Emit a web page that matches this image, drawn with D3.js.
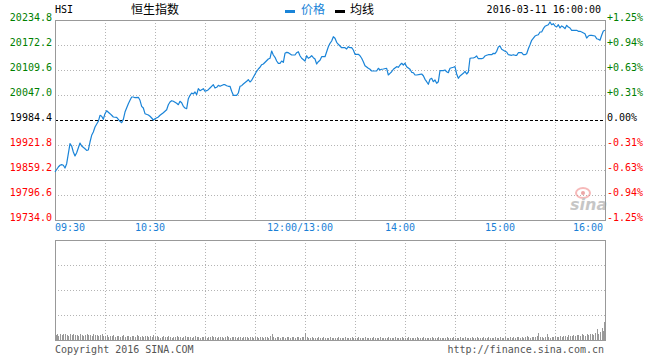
<!DOCTYPE html>
<html><head><meta charset="utf-8">
<script src="https://cdn.jsdelivr.net/npm/d3@7"></script>
<style>body{margin:0;background:#fff}svg{display:block}</style>
</head><body><svg id="c" width="660" height="360"></svg>
<script>
const symbol = "HSI";
const title = "恒生指数";
const legendItems = ["价格", "均线"];
const dateLabel = "2016-03-11 16:00:00";
const prevClose = 19984.4;
const priceTicks = [20234.8, 20172.2, 20109.6, 20047.0, 19984.4, 19921.8, 19859.2, 19796.6, 19734.0];
const pctTicks = ["+1.25%", "+0.94%", "+0.63%", "+0.31%", "0.00%", "-0.31%", "-0.63%", "-0.94%", "-1.25%"];
const timeTickMinutes = [0, 60, 150, 210, 270, 330];
const timeTickLabels = ["09:30", "10:30", "12:00/13:00", "14:00", "15:00", "16:00"];
const footerLeft = "Copyright 2016 SINA.COM";
const footerRight = "http://finance.sina.com.cn";

// trading minutes since 09:30 (lunch break removed)
const minutes = [0,2,3,4,5,6,7,8,9,10,11,12,13,15,16,18,19,20,21,22,23,24,26,27,28,29,30,31,33,34,35,37,38,39,40,41,42,44,45,46,47,48,50,51,52,53,54,56,57,58,59,60,62,63,64,65,
67,68,69,70,71,73,74,75,76,77,78,79,80,81,82,83,84,85,86,87,89,90,91,92,93,95,96,97,98,99,101,102,103,104,105,106,107,109,110,111,112,113,115,116,117,118,119,121,122,123,124,125,
128,129,130,131,132,133,134,135,136,137,138,139,140,142,143,144,145,146,147,148,150,151,152,153,154,155,156,157,158,159,160,162,163,164,165,166,167,168,169,170,171,172,174,175,176,177,178,179,180,182,183,184,185,186,188,189,190,192,
193,194,195,196,197,199,200,201,202,203,205,206,207,208,209,210,211,213,214,215,216,217,219,220,221,222,223,224,225,226,227,228,229,230,231,233,234,235,236,237,239,240,241,242,243,245,246,247,248,249,250,251,252,
253,254,256,257,258,259,260,262,263,264,265,266,267,268,269,270,271,272,274,275,276,277,278,280,281,282,283,284,285,286,288,289,290,291,292,293,294,296,297,298,299,300,301,302,303,304,305,306,307,308,309,310,312,313,314,315,316,318,319,320,321,322,324,325,326,327,328,329,330];
const prices = [19854.2,19866.7,19871.0,19872.5,19871.0,19864.2,19875.0,19900.0,19925.1,19919.3,19904.3,19894.3,19902.5,19926.8,19919.3,19912.5,19908.5,19909.3,19929.3,19946.1,19954.4,19966.9,19981.1,19996.2,19993.7,19986.2,20000.2,20007.7,20000.2,19996.2,19991.9,19991.2,19986.2,19981.1,19977.6,19986.2,20004.4,20025.2,20033.7,20042.0,20042.0,20040.2,20041.2,20033.7,20018.7,20014.4,20000.2,19996.9,19993.7,19989.4,19984.4,19987.7,19991.9,19996.2,19999.4,20002.7,
20010.2,20022.7,20029.5,20032.7,20031.2,20026.2,20022.7,20031.2,20027.7,20018.7,20014.4,20012.7,20037.7,20046.3,20052.0,20049.5,20054.5,20047.8,20062.8,20057.8,20062.8,20056.3,20057.8,20060.3,20064.5,20072.8,20064.5,20066.3,20071.3,20068.8,20072.8,20072.8,20070.3,20068.8,20068.8,20056.3,20046.3,20046.3,20052.0,20068.8,20070.3,20074.5,20081.3,20085.3,20079.6,20083.8,20091.3,20106.3,20112.1,20116.4,20122.9,20124.6,
20137.1,20138.9,20157.2,20147.2,20141.4,20132.1,20126.4,20126.4,20132.1,20128.9,20151.4,20153.9,20152.9,20147.2,20147.2,20147.2,20152.9,20155.4,20145.4,20138.9,20132.1,20145.4,20138.9,20141.4,20145.4,20140.4,20137.1,20124.6,20130.4,20133.9,20142.9,20142.9,20155.4,20167.9,20176.5,20182.2,20193.0,20189.0,20179.0,20174.0,20169.7,20165.4,20165.4,20162.2,20167.9,20165.4,20165.4,20159.7,20148.9,20148.9,20145.4,20138.9,20130.4,20120.4,20113.9,20111.4,20107.1,20107.1,
20107.1,20113.9,20109.6,20111.4,20112.1,20113.9,20097.1,20101.3,20105.3,20111.4,20117.9,20116.4,20122.1,20126.4,20122.1,20126.4,20117.9,20111.4,20103.8,20102.8,20097.1,20097.1,20098.8,20099.6,20095.3,20086.3,20080.3,20073.8,20086.3,20088.8,20080.3,20084.6,20076.3,20080.3,20107.9,20107.9,20109.6,20105.3,20102.8,20113.9,20116.4,20117.9,20099.6,20088.8,20094.6,20101.3,20106.3,20099.6,20104.6,20138.9,20139.6,20139.6,20141.4,
20144.7,20137.9,20137.9,20139.6,20144.7,20146.4,20147.9,20147.9,20151.4,20150.4,20156.4,20167.2,20169.7,20161.4,20158.9,20156.4,20154.7,20147.9,20146.4,20147.9,20146.4,20146.4,20152.9,20152.9,20147.9,20147.9,20150.4,20162.9,20173.0,20184.0,20194.7,20196.5,20198.0,20204.8,20204.8,20213.0,20219.0,20223.0,20229.8,20223.0,20225.5,20219.8,20217.3,20223.0,20214.8,20219.8,20217.3,20213.0,20221.5,20217.3,20214.8,20209.0,20209.0,20209.0,20206.5,20206.5,20204.8,20200.5,20189.7,20194.7,20196.5,20196.5,20194.7,20188.0,20186.5,20184.0,20196.5,20207.3,20209.0];

// volume per trading minute (relative units), minute 0..330
const volumes = [
5,6,4,6,5,6,6,5,4,6,5,6,5,5,4,6,5,4,5,6,5,5,4,6,5,5,4,5,6,4,
4,5,3,4,4,5,3,4,4,3,4,5,3,4,4,3,4,4,3,5,4,3,4,3,4,4,3,4,3,5,
3,4,3,2,3,4,3,3,4,3,2,3,3,4,3,3,2,3,4,3,3,3,2,3,4,3,3,2,3,3,
3,2,3,3,4,3,3,2,3,3,3,2,3,4,3,2,3,3,3,2,3,3,2,3,3,3,2,3,3,2,
3,3,2,3,3,2,3,3,2,4,6,3,2,3,3,2,3,3,2,3,3,2,3,3,2,3,3,2,3,3,
7,3,2,2,3,2,2,2,3,2,2,3,2,2,2,3,2,2,2,2,3,2,2,2,3,2,2,2,3,2,
2,2,3,2,2,2,3,2,2,2,2,3,2,2,2,3,2,2,2,2,3,2,2,2,3,2,2,2,3,2,
2,2,3,2,2,2,2,3,2,2,2,3,2,2,2,2,3,2,2,2,3,2,2,2,2,3,2,2,2,3,
2,2,2,3,2,2,3,2,2,2,3,2,2,3,2,2,2,3,2,2,3,2,2,2,3,2,2,3,2,2,
3,2,2,3,2,3,2,3,3,2,3,2,3,4,3,2,3,3,3,4,7,3,3,2,3,6,3,2,3,3,
4,3,3,4,3,4,4,3,5,4,4,5,4,5,5,4,6,5,4,6,5,6,6,5,7,11,6,8,12,9,
18];
const volMinutes = d3.range(volumes.length);

const svg = d3.select("#c");
const font = "'DejaVu Sans Mono', monospace";
const cjk = "'Noto Sans CJK SC', sans-serif";
const L = 55, R = 605, T = 20, B = 220, VT = 240, VB = 340;

const x = d3.scaleLinear().domain([0, 330]).range([L, R]);
const y = d3.scaleLinear().domain([priceTicks[priceTicks.length-1], priceTicks[0]]).range([B, T]);
const vy = d3.scaleLinear().domain([0, 100]).range([VB, VT]);

const gridMinutes = d3.range(30, 330, 30);
const gridCol = "#b4b4b4", borderCol = "#999999";

// ---- main panel grid
const g = svg.append("g").attr("shape-rendering", "crispEdges");
g.selectAll(".vg").data(gridMinutes).join("line")
  .attr("x1", d => Math.round(x(d)) + 0.5).attr("x2", d => Math.round(x(d)) + 0.5)
  .attr("y1", T).attr("y2", B)
  .attr("stroke", gridCol).attr("stroke-dasharray", "1,2");
g.selectAll(".hg").data(priceTicks.slice(1, -1).filter(v => v !== prevClose)).join("line")
  .attr("x1", L).attr("x2", R)
  .attr("y1", d => Math.round(y(d)) + 0.5).attr("y2", d => Math.round(y(d)) + 0.5)
  .attr("stroke", gridCol).attr("stroke-dasharray", "1,2");
g.append("line").attr("x1", L).attr("x2", R)
  .attr("y1", Math.round(y(prevClose)) + 0.5).attr("y2", Math.round(y(prevClose)) + 0.5)
  .attr("stroke", "#000").attr("stroke-dasharray", "3,2");
g.append("rect").attr("x", L + 0.5).attr("y", T + 0.5).attr("width", R - L).attr("height", B - T)
  .attr("fill", "none").attr("stroke", borderCol);

// ---- volume panel grid
const vg = svg.append("g").attr("shape-rendering", "crispEdges");
vg.selectAll("line.v").data(gridMinutes).join("line")
  .attr("x1", d => Math.round(x(d)) + 0.5).attr("x2", d => Math.round(x(d)) + 0.5)
  .attr("y1", VT).attr("y2", VB)
  .attr("stroke", gridCol).attr("stroke-dasharray", "1,2");
vg.selectAll("line.h").data([25, 50, 75]).join("line")
  .attr("x1", L).attr("x2", R)
  .attr("y1", d => Math.round(vy(d)) + 0.5).attr("y2", d => Math.round(vy(d)) + 0.5)
  .attr("stroke", gridCol).attr("stroke-dasharray", "1,2");
vg.selectAll("rect.bar").data(volumes).join("rect")
  .attr("x", (d, i) => Math.min(Math.max(Math.round(x(volMinutes[i])), L + 1), R - 1))
  .attr("width", 1)
  .attr("y", d => vy(d)).attr("height", d => VB - vy(d))
  .attr("fill", "#999");
vg.append("rect").attr("x", L + 0.5).attr("y", VT + 0.5).attr("width", R - L).attr("height", VB - VT)
  .attr("fill", "none").attr("stroke", borderCol);

// ---- watermark
const wm = svg.append("g").attr("opacity", 0.55);
wm.append("ellipse").attr("cx", 583).attr("cy", 193).attr("rx", 7).attr("ry", 5).attr("fill", "none").attr("stroke", "#f08080").attr("stroke-width", 2);
wm.append("circle").attr("cx", 583).attr("cy", 193).attr("r", 2).attr("fill", "#e06060");
wm.append("text").attr("x", 570).attr("y", 210).text("sina")
  .attr("font-family", "'DejaVu Sans', sans-serif").attr("font-style", "italic").attr("font-weight", "bold")
  .attr("font-size", 16).attr("fill", "#999");

// ---- price line
const line = d3.line().x((d, i) => x(minutes[i])).y(d => y(d));
svg.append("path").datum(prices).attr("d", line)
  .attr("fill", "none").attr("stroke", "#1a84d8").attr("stroke-width", 1.2).attr("stroke-linejoin", "round");

// ---- axis labels
const colorFor = i => i < 4 ? "#008000" : (i === 4 ? "#000" : "#ff0000");
svg.selectAll("text.yl").data(priceTicks).join("text")
  .attr("x", 52).attr("y", d => Math.round(y(d)) + 1)
  .attr("text-anchor", "end").attr("font-family", font).attr("font-size", 10)
  .attr("fill", (d, i) => colorFor(i)).text(d => d.toFixed(1));
svg.selectAll("text.yr").data(pctTicks).join("text")
  .attr("x", 607).attr("y", (d, i) => Math.round(y(priceTicks[i])) + 1)
  .attr("font-family", font).attr("font-size", 10)
  .attr("fill", (d, i) => colorFor(i)).text(d => d);
svg.selectAll("text.xl").data(timeTickLabels).join("text")
  .attr("x", (d, i) => i === 0 ? L : (i === timeTickLabels.length - 1 ? R - 2 : x(timeTickMinutes[i]) - 5))
  .attr("y", 231)
  .attr("text-anchor", (d, i) => i === 0 ? "start" : (i === timeTickLabels.length - 1 ? "end" : "middle"))
  .attr("font-family", font).attr("font-size", 10).attr("fill", "#1a7fd6").text(d => d);

// ---- header
svg.append("text").attr("x", 55).attr("y", 13).attr("font-family", font).attr("font-size", 10).text(symbol);
svg.append("text").attr("x", 131).attr("y", 14).attr("font-family", cjk).attr("font-size", 12).text(title);
svg.append("rect").attr("x", 285).attr("y", 10).attr("width", 10).attr("height", 3).attr("fill", "#1a84d8");
svg.append("text").attr("x", 301).attr("y", 14).attr("font-family", cjk).attr("font-size", 12).attr("fill", "#1a84d8").text(legendItems[0]);
svg.append("rect").attr("x", 335).attr("y", 10).attr("width", 10).attr("height", 3).attr("fill", "#000");
svg.append("text").attr("x", 350).attr("y", 14).attr("font-family", cjk).attr("font-size", 12).attr("fill", "#000").text(legendItems[1]);
svg.append("text").attr("x", 601).attr("y", 13).attr("text-anchor", "end").attr("font-family", font).attr("font-size", 10).text(dateLabel);

// ---- footer
svg.append("text").attr("x", 55).attr("y", 353).attr("font-family", font).attr("font-size", 10).attr("fill", "#555").text(footerLeft);
svg.append("text").attr("x", 604).attr("y", 353).attr("text-anchor", "end").attr("font-family", font).attr("font-size", 10).attr("fill", "#555").text(footerRight);
</script></body></html>
